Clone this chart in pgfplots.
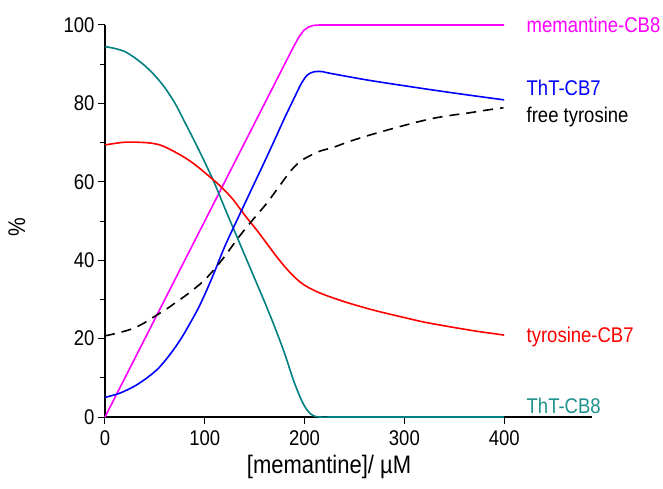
\documentclass[border=0pt]{standalone}
\usepackage{fontspec}
\setmainfont{Liberation Sans}
\usepackage{pgfplots}
\pgfplotsset{compat=1.18}

\definecolor{cmag}{RGB}{255,0,255}
\definecolor{cblue}{RGB}{0,0,255}
\definecolor{cred}{RGB}{255,0,0}
\definecolor{cteal}{RGB}{0,128,128}
\definecolor{ctealtxt}{RGB}{30,145,140}
% text in the reference is a little taller than wide
\newcommand{\st}[1]{\scalebox{1}[1.15]{#1}}

\begin{document}
\begin{tikzpicture}
\useasboundingbox (-105pt,-71pt) rectangle (558pt,417pt);
\begin{axis}[
    scale only axis, width=487pt, height=392pt,
    xmin=0, xmax=488, ymin=0, ymax=100,
    axis lines=left, axis line style={-, line width=1.1pt},
    xtick={0,100,200,300,400}, ytick={0,20,40,60,80,100},
    minor ytick={10,30,50,70,90},
    tick align=outside, major tick length=7pt, minor tick length=4.5pt,
    tick style={black, line width=1pt},
    ticklabel style={font=\fontsize{18.5}{20}\selectfont},
    xticklabel style={yshift=-3pt},
    /pgf/number format/assume math mode=true,
    xticklabel={\st{\pgfmathprintnumber{\tick}}},
    yticklabel={\st{\pgfmathprintnumber{\tick}}},
    xlabel={\st{[memantine]/ µM}},
    xlabel style={font=\fontsize{22}{24}\selectfont, at={(axis description cs:0.46,-0.128)}, anchor=center},
    ylabel={\st{\%}},
    ylabel style={font=\fontsize{21}{23}\selectfont, at={(axis description cs:-0.181,0.485)}, anchor=center},
    clip=false,
    every axis plot/.append style={line width=1.6pt},
]
% memantine-CB8
\addplot[cmag] coordinates {(0,0) (188,94) (194,96.8) (199,98.6) (204,99.5) (209,99.9) (215,100) (400,100)};
% ThT-CB8
\addplot[cteal, smooth] coordinates {(0,94.5) (10,94) (20,93.2) (30,91.6) (40,89.6) (50,87.1) (60,84) (70,80.1) (80,75.2) (90,70.2) (100,65) (110,59.5) (120,53.3) (130,47.3) (140,41.3) (150,35.3) (160,29.3) (170,23) (180,16.2) (188,10) (194,6) (199,3.2) (204,1.3) (209,0.3) (215,0) (230,0) (260,0) (300,0) (340,0) (400,0)};
% tyrosine-CB7
\addplot[cred, smooth] coordinates {(0,69.4) (10,69.8) (20,70.1) (32,70.1) (45,69.9) (55,69.4) (65,68.3) (78.5,66.4) (88,64.8) (95,63.4) (108.6,60.5) (118,58.3) (128.6,55.4) (140,51.5) (152,47.7) (162,44.3) (172,40.9) (182,37.8) (192,35.2) (200,33.6) (212,32) (225,30.7) (245,29.0) (270,27.2) (296,25.6) (320,24.2) (346,23.0) (372,21.9) (400,20.9)};
% ThT-CB7
\addplot[cblue, smooth] coordinates {(0,5) (14,6) (28.4,7.7) (40,9.6) (51.8,12) (60,14.3) (68.5,17.1) (77,20.3) (85.2,23.9) (94,28) (102,32.4) (110,37.2) (120,43.5) (130,49) (140,54.4) (150,59.8) (160,65.2) (170,70.7) (180,76.3) (190,81.6) (197,85.2) (203,87.3) (210,88.1) (218,88.1) (225,87.7) (262,86.0) (300,84.5) (329,83.4) (365,82.1) (400,80.9)};
% free tyrosine
\addplot[black, dash pattern=on 10pt off 7pt, smooth] coordinates {(0,20.7) (14,21.5) (28.4,22.6) (40,24.1) (51.8,26) (62,27.6) (71.9,29.4) (82,31.2) (91.9,33.2) (100,35) (110.3,37.9) (120,41) (132,45.2) (140,47.8) (148.7,50.5) (162,54.5) (175,59) (185.5,62.6) (195,65.1) (205,66.6) (215,67.8) (228.9,68.8) (245,70.3) (262.4,71.7) (280,73) (295.7,74.1) (312,75.2) (329.1,76.2) (345,76.9) (362.6,77.5) (380,78.2) (399.3,78.9)};

\node[anchor=west, text=cmag, font=\fontsize{18.5}{20}\selectfont] at (axis cs:419,100) {\st{memantine-CB8}};
\node[anchor=west, text=cblue, font=\fontsize{18.5}{20}\selectfont] at (axis cs:419,84) {\st{ThT-CB7}};
\node[anchor=west, text=black, font=\fontsize{18.5}{20}\selectfont] at (axis cs:419,76.5) {\st{free tyrosine}};
\node[anchor=west, text=cred, font=\fontsize{18.5}{20}\selectfont] at (axis cs:419,20.4) {\st{tyrosine-CB7}};
\node[anchor=west, text=ctealtxt, font=\fontsize{18.5}{20}\selectfont] at (axis cs:419,2.8) {\st{ThT-CB8}};
\end{axis}
\end{tikzpicture}
\end{document}
